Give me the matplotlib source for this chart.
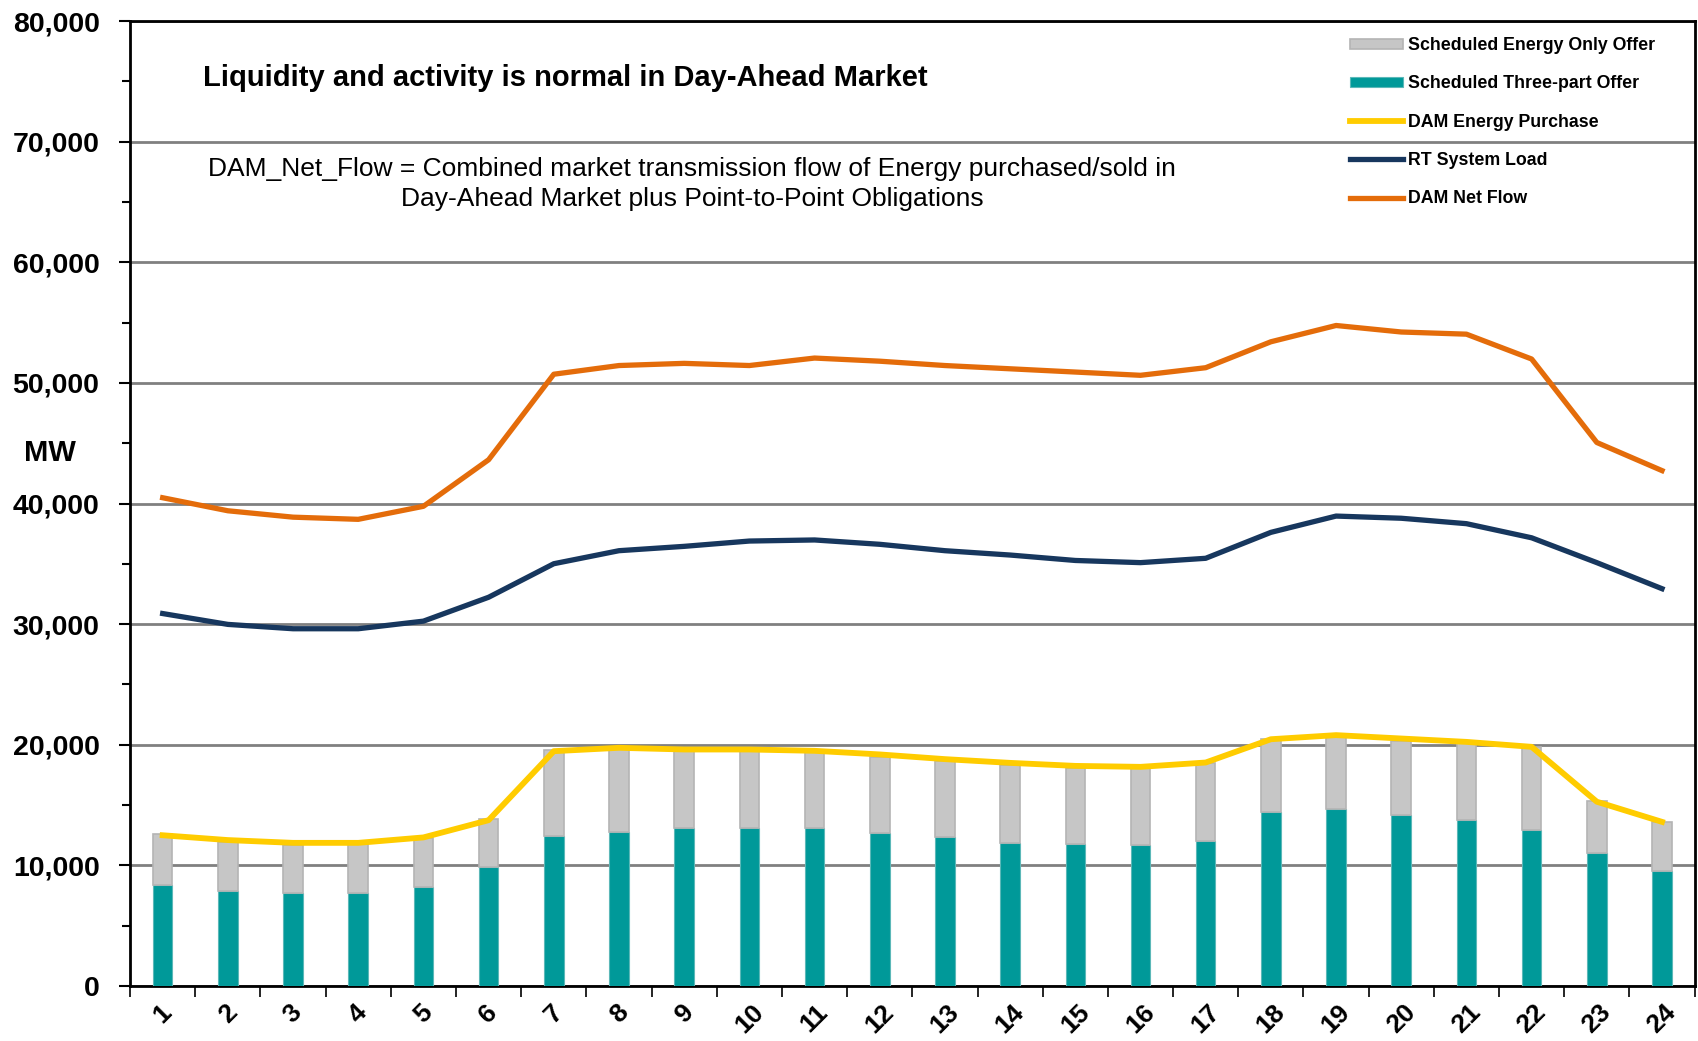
import matplotlib.pyplot as plt
import numpy as np

plt.rcParams['font.family'] = ['Liberation Sans', 'DejaVu Sans']

hours = [str(h) for h in range(1, 25)]

# MW values
three_part = [8370, 7900, 7680, 7730, 8230, 9890, 12430, 12730, 13060, 13060, 13060, 12710,
              12320, 11870, 11740, 11660, 12010, 14440, 14660, 14170, 13750, 12920, 11050, 9550]
energy_only_top = [12570, 11960, 11680, 11760, 12240, 13840, 19550, 19610, 19470, 19550, 19410, 19000,
                   18670, 18310, 18040, 18040, 18500, 20460, 20660, 20300, 20110, 19830, 15330, 13610]
dam_purchase = [12500, 12100, 11870, 11870, 12320, 13750, 19470, 19750, 19610, 19610, 19500, 19200,
                18810, 18500, 18250, 18170, 18530, 20460, 20800, 20520, 20240, 19830, 15280, 13610]
rt_load = [30880, 29980, 29620, 29620, 30250, 32230, 35010, 36090, 36450, 36890, 36980, 36620,
           36090, 35730, 35280, 35100, 35460, 37610, 38960, 38780, 38330, 37160, 35100, 32940]
net_flow = [40480, 39400, 38870, 38690, 39770, 43630, 50720, 51440, 51620, 51440, 52060, 51800,
            51440, 51170, 50900, 50630, 51260, 53410, 54760, 54220, 54040, 51980, 45060, 42730]

energy_only = [t - b for t, b in zip(energy_only_top, three_part)]

x = np.arange(len(hours))

fig = plt.figure(figsize=(16.98, 10.41), dpi=100)
ax = fig.add_axes([0.0766, 0.0528, 0.9214, 0.927])

b_three = ax.bar(x, three_part, width=0.3, color='#009999', edgecolor='#5BB8B8', linewidth=0.8,
                 label='Scheduled Three-part Offer', zorder=3)
b_only = ax.bar(x, energy_only, bottom=three_part, width=0.3, color='#C6C6C6', edgecolor='#B4B4B4',
                linewidth=1.2, label='Scheduled Energy Only Offer', zorder=3)
l_dam, = ax.plot(x, dam_purchase, color='#FFCC00', lw=4.2, label='DAM Energy Purchase', zorder=4)
l_rt, = ax.plot(x, rt_load, color='#17375E', lw=3.8, label='RT System Load', zorder=4)
l_net, = ax.plot(x, net_flow, color='#E46C0A', lw=3.8, label='DAM Net Flow', zorder=4)

ax.set_xlim(-0.5, len(hours) - 0.5)
ax.set_ylim(0, 80000)
ax.set_yticks(np.arange(0, 80001, 10000))
ax.set_yticks(np.arange(5000, 80000, 10000), minor=True)
ax.set_yticklabels([f'{v:,}' for v in range(0, 80001, 10000)], fontsize=20.5, fontweight='bold')
ax.tick_params(axis='y', which='major', length=8, width=1.5, pad=14)
ax.tick_params(axis='y', which='minor', length=6, width=1.5)
ax.grid(axis='y', which='major', color='#808080', lw=2, zorder=0)

ax.set_xticks(x)
ax.set_xticklabels(hours, fontsize=19, fontweight='bold', rotation=45, ha='center')
ax.set_xticks(np.arange(-0.5, len(hours), 1), minor=True)
ax.tick_params(axis='x', which='major', length=0, pad=10)
ax.tick_params(axis='x', which='minor', length=8, width=1.2)

for s in ax.spines.values():
    s.set_linewidth(2)
    s.set_color('black')

fig.text(0.0294, 0.565, 'MW', fontsize=21, fontweight='bold', ha='center', va='center')

fig.text(0.1195, 0.925, 'Liquidity and activity is normal in Day-Ahead Market',
         fontsize=21, fontweight='bold', ha='left', va='center')
fig.text(0.4076, 0.823, 'DAM_Net_Flow = Combined market transmission flow of Energy purchased/sold in\n'
         'Day-Ahead Market plus Point-to-Point Obligations',
         fontsize=19, ha='center', va='center', linespacing=1.3)

ax.legend([b_only, b_three, l_dam, l_rt, l_net],
          ['Scheduled Energy Only Offer', 'Scheduled Three-part Offer', 'DAM Energy Purchase',
           'RT System Load', 'DAM Net Flow'],
          loc='upper right', bbox_to_anchor=(0.985, 1.0), frameon=False,
          prop={'weight': 'bold', 'size': 12.8}, handlelength=2.95, handleheight=0.5,
          handletextpad=0.3, labelspacing=1.2, borderaxespad=0.5)

fig.savefig('out.png', dpi=100)
